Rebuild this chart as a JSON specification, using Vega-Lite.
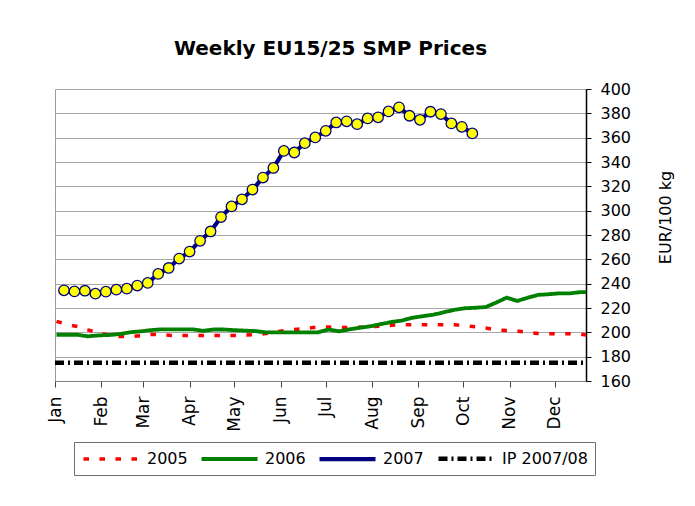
{
  "$schema": "https://vega.github.io/schema/vega-lite/v6.json",
  "autosize": "none",
  "width": 531,
  "height": 292,
  "padding": {"left": 55, "top": 89, "right": 109, "bottom": 125},
  "background": "white",
  "title": {
    "text": "Weekly EU15/25 SMP Prices",
    "font": "DejaVu Sans",
    "fontSize": 20,
    "fontWeight": "bold",
    "color": "black",
    "anchor": "middle",
    "frame": "group",
    "baseline": "alphabetic",
    "offset": 6,
    "dx": 10
  },
  "config": {
    "view": {"stroke": "#9a9a9a", "strokeWidth": 1},
    "font": "DejaVu Sans",
    "axis": {"labelFont": "DejaVu Sans", "titleFont": "DejaVu Sans", "labelColor": "black", "titleColor": "black"},
    "legend": {"labelFont": "DejaVu Sans"}
  },
  "data": {
    "values": [
      {"s": "2005", "date": "2007-01-02", "v": 209},
      {"s": "2005", "date": "2007-01-09", "v": 206.5},
      {"s": "2005", "date": "2007-01-16", "v": 204.8},
      {"s": "2005", "date": "2007-01-23", "v": 202},
      {"s": "2005", "date": "2007-01-30", "v": 199.5},
      {"s": "2005", "date": "2007-02-06", "v": 197.8},
      {"s": "2005", "date": "2007-02-13", "v": 196.5},
      {"s": "2005", "date": "2007-02-20", "v": 196.5},
      {"s": "2005", "date": "2007-02-27", "v": 197.3},
      {"s": "2005", "date": "2007-03-06", "v": 198.3},
      {"s": "2005", "date": "2007-03-13", "v": 198.3},
      {"s": "2005", "date": "2007-03-20", "v": 197.5},
      {"s": "2005", "date": "2007-03-27", "v": 197.5},
      {"s": "2005", "date": "2007-04-03", "v": 197.5},
      {"s": "2005", "date": "2007-04-10", "v": 197.5},
      {"s": "2005", "date": "2007-04-17", "v": 197.5},
      {"s": "2005", "date": "2007-04-24", "v": 197.5},
      {"s": "2005", "date": "2007-05-01", "v": 197.5},
      {"s": "2005", "date": "2007-05-08", "v": 197.8},
      {"s": "2005", "date": "2007-05-15", "v": 198},
      {"s": "2005", "date": "2007-05-22", "v": 199},
      {"s": "2005", "date": "2007-05-29", "v": 200.5},
      {"s": "2005", "date": "2007-06-05", "v": 201.8},
      {"s": "2005", "date": "2007-06-12", "v": 202.5},
      {"s": "2005", "date": "2007-06-19", "v": 203.3},
      {"s": "2005", "date": "2007-06-26", "v": 204.5},
      {"s": "2005", "date": "2007-07-03", "v": 204.3},
      {"s": "2005", "date": "2007-07-10", "v": 204},
      {"s": "2005", "date": "2007-07-17", "v": 204},
      {"s": "2005", "date": "2007-07-24", "v": 204.2},
      {"s": "2005", "date": "2007-07-31", "v": 204.5},
      {"s": "2005", "date": "2007-08-07", "v": 205.2},
      {"s": "2005", "date": "2007-08-14", "v": 205.8},
      {"s": "2005", "date": "2007-08-21", "v": 206.2},
      {"s": "2005", "date": "2007-08-28", "v": 206.3},
      {"s": "2005", "date": "2007-09-04", "v": 206.3},
      {"s": "2005", "date": "2007-09-11", "v": 206.3},
      {"s": "2005", "date": "2007-09-18", "v": 206.3},
      {"s": "2005", "date": "2007-09-25", "v": 206.3},
      {"s": "2005", "date": "2007-10-02", "v": 205.5},
      {"s": "2005", "date": "2007-10-09", "v": 204.5},
      {"s": "2005", "date": "2007-10-16", "v": 203.5},
      {"s": "2005", "date": "2007-10-23", "v": 202},
      {"s": "2005", "date": "2007-10-30", "v": 201.5},
      {"s": "2005", "date": "2007-11-06", "v": 201.2},
      {"s": "2005", "date": "2007-11-13", "v": 200},
      {"s": "2005", "date": "2007-11-20", "v": 199},
      {"s": "2005", "date": "2007-11-27", "v": 198.8},
      {"s": "2005", "date": "2007-12-04", "v": 198.8},
      {"s": "2005", "date": "2007-12-11", "v": 198.8},
      {"s": "2005", "date": "2007-12-18", "v": 198.5},
      {"s": "2005", "date": "2007-12-22", "v": 197.8},
      {"s": "2006", "date": "2007-01-02", "v": 198},
      {"s": "2006", "date": "2007-01-09", "v": 198},
      {"s": "2006", "date": "2007-01-16", "v": 198},
      {"s": "2006", "date": "2007-01-23", "v": 196.7},
      {"s": "2006", "date": "2007-01-30", "v": 197.5},
      {"s": "2006", "date": "2007-02-06", "v": 197.8},
      {"s": "2006", "date": "2007-02-13", "v": 198.5},
      {"s": "2006", "date": "2007-02-20", "v": 200},
      {"s": "2006", "date": "2007-02-27", "v": 200.8},
      {"s": "2006", "date": "2007-03-06", "v": 201.8},
      {"s": "2006", "date": "2007-03-13", "v": 202.5},
      {"s": "2006", "date": "2007-03-20", "v": 202.5},
      {"s": "2006", "date": "2007-03-27", "v": 202.5},
      {"s": "2006", "date": "2007-04-03", "v": 202.5},
      {"s": "2006", "date": "2007-04-10", "v": 201.2},
      {"s": "2006", "date": "2007-04-17", "v": 202.3},
      {"s": "2006", "date": "2007-04-24", "v": 202.3},
      {"s": "2006", "date": "2007-05-01", "v": 201.8},
      {"s": "2006", "date": "2007-05-08", "v": 201.4},
      {"s": "2006", "date": "2007-05-15", "v": 201},
      {"s": "2006", "date": "2007-05-22", "v": 200},
      {"s": "2006", "date": "2007-05-29", "v": 200},
      {"s": "2006", "date": "2007-06-05", "v": 200},
      {"s": "2006", "date": "2007-06-12", "v": 200},
      {"s": "2006", "date": "2007-06-19", "v": 200},
      {"s": "2006", "date": "2007-06-26", "v": 200},
      {"s": "2006", "date": "2007-07-03", "v": 202.3},
      {"s": "2006", "date": "2007-07-10", "v": 200.8},
      {"s": "2006", "date": "2007-07-17", "v": 202.5},
      {"s": "2006", "date": "2007-07-24", "v": 203.8},
      {"s": "2006", "date": "2007-07-31", "v": 205},
      {"s": "2006", "date": "2007-08-07", "v": 206.8},
      {"s": "2006", "date": "2007-08-14", "v": 208.5},
      {"s": "2006", "date": "2007-08-21", "v": 209.7},
      {"s": "2006", "date": "2007-08-28", "v": 212},
      {"s": "2006", "date": "2007-09-04", "v": 213.3},
      {"s": "2006", "date": "2007-09-11", "v": 214.5},
      {"s": "2006", "date": "2007-09-18", "v": 216.5},
      {"s": "2006", "date": "2007-09-25", "v": 218.5},
      {"s": "2006", "date": "2007-10-02", "v": 219.8},
      {"s": "2006", "date": "2007-10-09", "v": 220.2},
      {"s": "2006", "date": "2007-10-16", "v": 220.8},
      {"s": "2006", "date": "2007-10-23", "v": 224.5},
      {"s": "2006", "date": "2007-10-30", "v": 228.5},
      {"s": "2006", "date": "2007-11-06", "v": 225.8},
      {"s": "2006", "date": "2007-11-13", "v": 228.4},
      {"s": "2006", "date": "2007-11-20", "v": 230.8},
      {"s": "2006", "date": "2007-11-27", "v": 231.3},
      {"s": "2006", "date": "2007-12-04", "v": 232},
      {"s": "2006", "date": "2007-12-11", "v": 232},
      {"s": "2006", "date": "2007-12-18", "v": 233},
      {"s": "2006", "date": "2007-12-22", "v": 233},
      {"s": "2007", "date": "2007-01-07", "v": 234.5},
      {"s": "2007", "date": "2007-01-14", "v": 233.6},
      {"s": "2007", "date": "2007-01-21", "v": 234.2},
      {"s": "2007", "date": "2007-01-28", "v": 231.8},
      {"s": "2007", "date": "2007-02-04", "v": 233.4},
      {"s": "2007", "date": "2007-02-11", "v": 235.1},
      {"s": "2007", "date": "2007-02-18", "v": 235.9},
      {"s": "2007", "date": "2007-02-25", "v": 238.4},
      {"s": "2007", "date": "2007-03-04", "v": 240.6},
      {"s": "2007", "date": "2007-03-11", "v": 248},
      {"s": "2007", "date": "2007-03-18", "v": 252.9},
      {"s": "2007", "date": "2007-03-25", "v": 260.6},
      {"s": "2007", "date": "2007-04-01", "v": 266.4},
      {"s": "2007", "date": "2007-04-08", "v": 275.2},
      {"s": "2007", "date": "2007-04-15", "v": 282.9},
      {"s": "2007", "date": "2007-04-22", "v": 294.7},
      {"s": "2007", "date": "2007-04-29", "v": 303.5},
      {"s": "2007", "date": "2007-05-06", "v": 309.3},
      {"s": "2007", "date": "2007-05-13", "v": 317.3},
      {"s": "2007", "date": "2007-05-20", "v": 327.2},
      {"s": "2007", "date": "2007-05-27", "v": 335.1},
      {"s": "2007", "date": "2007-06-03", "v": 349.1},
      {"s": "2007", "date": "2007-06-10", "v": 347.8},
      {"s": "2007", "date": "2007-06-17", "v": 355.5},
      {"s": "2007", "date": "2007-06-24", "v": 360.2},
      {"s": "2007", "date": "2007-07-01", "v": 365.6},
      {"s": "2007", "date": "2007-07-08", "v": 372.5},
      {"s": "2007", "date": "2007-07-15", "v": 373.4},
      {"s": "2007", "date": "2007-07-22", "v": 371.1},
      {"s": "2007", "date": "2007-07-29", "v": 375.8},
      {"s": "2007", "date": "2007-08-05", "v": 376.7},
      {"s": "2007", "date": "2007-08-12", "v": 381.6},
      {"s": "2007", "date": "2007-08-19", "v": 384.9},
      {"s": "2007", "date": "2007-08-26", "v": 378},
      {"s": "2007", "date": "2007-09-02", "v": 374.7},
      {"s": "2007", "date": "2007-09-09", "v": 381.3},
      {"s": "2007", "date": "2007-09-16", "v": 379.4},
      {"s": "2007", "date": "2007-09-23", "v": 371.7},
      {"s": "2007", "date": "2007-09-30", "v": 368.9},
      {"s": "2007", "date": "2007-10-07", "v": 363.5},
      {"s": "IP 2007/08", "date": "2007-01-01", "v": 175},
      {"s": "IP 2007/08", "date": "2007-12-22", "v": 175}
    ],
    "format": {"parse": {"date": "date:'%Y-%m-%d'"}}
  },
  "encoding": {
    "x": {
      "field": "date",
      "type": "temporal",
      "scale": {"domain": [{"year": 2007, "month": 1, "date": 1}, {"year": 2007, "month": 12, "date": 22}]},
      "axis": {
        "title": null,
        "format": "%b",
        "tickCount": {"interval": "month", "step": 1},
        "labelAngle": -90,
        "labelAlign": "right",
        "labelBaseline": "middle",
        "labelFontSize": 17,
        "labelPadding": 9,
        "tickSize": 6,
        "tickColor": "#404040",
        "domainColor": "#808080",
        "grid": false,
        "labelOverlap": false,
        "labelFlush": false
      }
    },
    "y": {
      "field": "v",
      "type": "quantitative",
      "scale": {"domain": [160, 400], "nice": false, "zero": false},
      "axis": {
        "orient": "right",
        "title": "EUR/100 kg",
        "titleFontSize": 16,
        "titleFontWeight": "normal",
        "titleAngle": 270,
        "titleX": 79,
        "titleY": 128,
        "titleAlign": "center",
        "titleBaseline": "middle",
        "values": [160, 180, 200, 220, 240, 260, 280, 300, 320, 340, 360, 380, 400],
        "labelFontSize": 16,
        "labelPadding": 9,
        "tickSize": 5,
        "tickColor": "black",
        "domainColor": "black",
        "domainWidth": 1.5,
        "grid": true,
        "gridColor": "#a8a8a8",
        "gridWidth": 1,
        "labelOverlap": false,
        "labelBaseline": "middle"
      }
    }
  },
  "layer": [
    {
      "mark": {"type": "line", "clip": true},
      "encoding": {
        "color": {
          "field": "s",
          "type": "nominal",
          "scale": {"domain": ["2005", "2006", "2007", "IP 2007/08"], "range": ["#ff0000", "#008000", "#000080", "#000000"]},
          "legend": {
            "title": null,
            "orient": "none",
            "legendX": 19,
            "legendY": 353,
            "direction": "horizontal",
            "columns": 4,
            "symbolType": "M-1,0H7",
            "symbolSize": 196,
            "labelFontSize": 16,
            "labelOffset": 47,
            "columnPadding": 5,
            "padding": 7,
            "strokeColor": "#707070",
            "fillColor": "white",
            "labelColor": "black"
          }
        },
        "strokeDash": {
          "field": "s",
          "type": "nominal",
          "scale": {"domain": ["2005", "2006", "2007", "IP 2007/08"], "range": [[5.5, 10.5], [1, 0], [1, 0], [9, 4, 2, 4]]},
          "legend": {"title": null}
        },
        "strokeWidth": {
          "field": "s",
          "type": "nominal",
          "scale": {"domain": ["2005", "2006", "2007", "IP 2007/08"], "range": [3.5, 4.5, 3, 1.5]},
          "legend": {"title": null}
        }
      }
    },
    {
      "transform": [{"filter": "datum.s === '2007'"}],
      "mark": {"type": "point", "filled": true, "fill": "#ffff00", "stroke": "#000080", "strokeWidth": 1.3, "size": 110, "opacity": 1}
    }
  ]
}
